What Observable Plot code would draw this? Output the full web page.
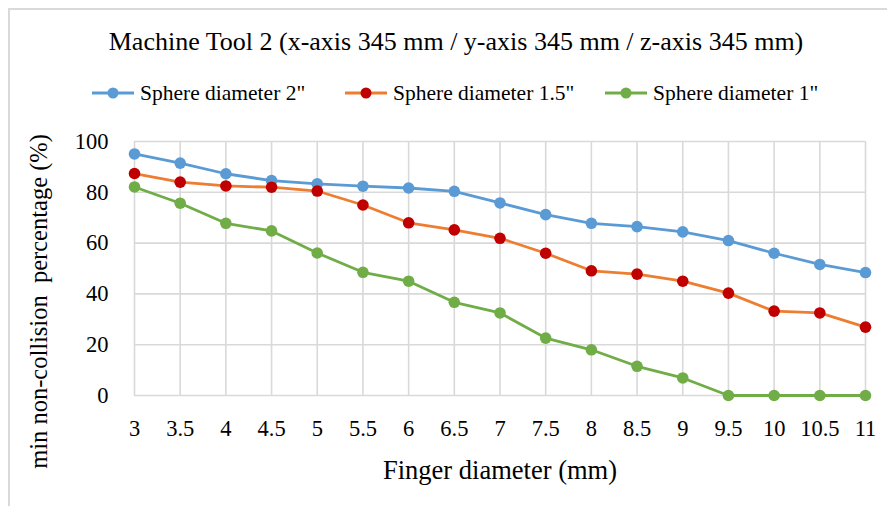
<!DOCTYPE html>
<html>
<head>
<meta charset="utf-8">
<script src="https://cdn.jsdelivr.net/npm/d3@7"></script>
<script src="https://cdn.jsdelivr.net/npm/@observablehq/plot@0.6"></script>
<style>
  html, body { margin: 0; padding: 0; background: #fff; }
  #wrap { position: relative; width: 887px; height: 506px; overflow: hidden; background: #fff;
          font-family: "Liberation Serif", "DejaVu Serif", serif; color: #000; }
  #frame { position: absolute; left: 8px; top: 8px; width: 900px; height: 520px;
           border-left: 2px solid #d9d9d9; border-top: 2px solid #d9d9d9; }
  #title { position: absolute; left: 25px; width: 862px; top: 28px; text-align: center;
           font-size: 26px; line-height: 28px; white-space: nowrap; }
  #legend { position: absolute; left: 0; top: 81px; width: 887px; height: 24px; }
  .item { position: absolute; top: 0; height: 24px; display: flex; align-items: center;
          font-size: 21.5px; white-space: nowrap; }
  .item svg { margin-right: 5px; }
  #chart { position: absolute; left: 0; top: 115px; }
</style>
</head>
<body>
<div id="wrap">
  <div id="frame"></div>
  <div id="title">Machine Tool 2 (x-axis 345 mm / y-axis 345 mm / z-axis 345 mm)</div>
  <div id="legend"></div>
  <div id="chart"></div>
</div>
<script>
// Finger diameter (mm) categories
const fingerDiameter = [3, 3.5, 4, 4.5, 5, 5.5, 6, 6.5, 7, 7.5, 8, 8.5, 9, 9.5, 10, 10.5, 11];
// min non-collision percentage (%) per sphere diameter
const sphere2in   = [95.1, 91.5, 87.3, 84.6, 83.3, 82.4, 81.7, 80.4, 75.8, 71.2, 67.8, 66.5, 64.4, 61.0, 56.0, 51.6, 48.4];
const sphere15in  = [87.4, 84.0, 82.5, 82.0, 80.5, 75.0, 68.0, 65.2, 61.9, 56.0, 49.1, 47.8, 45.0, 40.3, 33.2, 32.5, 26.9];
const sphere1in   = [82.1, 75.7, 67.8, 64.8, 56.1, 48.5, 45.0, 36.7, 32.5, 22.6, 18.0, 11.5, 6.9, 0, 0, 0, 0];
const seriesNames = ['Sphere diameter 2"', 'Sphere diameter 1.5"', 'Sphere diameter 1"'];
const yTicks = [0, 20, 40, 60, 80, 100];
const xLabel = "Finger diameter (mm)";
const yLabel = "min non-collision  percentage (%)";

// styles
const lineColors = ["#5B9BD5", "#ED7D31", "#70AD47"];
const dotColors  = ["#5B9BD5", "#C00000", "#70AD47"];
const seriesValues = [sphere2in, sphere15in, sphere1in];

const rows = [];
seriesNames.forEach((name, i) => {
  fingerDiameter.forEach((x, j) => rows.push({series: name, idx: i, x, y: seriesValues[i][j]}));
});

const marks = [
  Plot.gridX(fingerDiameter, {stroke: "#d9d9d9", strokeOpacity: 1, strokeWidth: 1.6}),
  Plot.gridY(yTicks, {stroke: "#d9d9d9", strokeOpacity: 1, strokeWidth: 1.6}),
  Plot.axisX(fingerDiameter, {tickSize: 0, tickPadding: 25, fontSize: 22.5, tickFormat: d => String(d), label: null}),
  Plot.axisY(yTicks, {tickSize: 0, tickPadding: 26, fontSize: 22.5, label: null}),
  Plot.text([xLabel], {text: d => d, frameAnchor: "bottom", textAnchor: "middle", lineAnchor: "middle", dy: 75, fontSize: 26.5}),
  Plot.text([yLabel], {text: d => d, frameAnchor: "left", textAnchor: "middle", lineAnchor: "middle", rotate: -90, dx: -95, dy: 33, fontSize: 24.5})
];
seriesNames.forEach((name, i) => {
  const d = rows.filter(r => r.idx === i);
  marks.push(Plot.line(d, {x: "x", y: "y", stroke: lineColors[i], strokeWidth: 2.8}));
});
seriesNames.forEach((name, i) => {
  const d = rows.filter(r => r.idx === i);
  marks.push(Plot.dot(d, {x: "x", y: "y", r: 5.8, fill: dotColors[i], stroke: "none"}));
});

const chart = Plot.plot({
  width: 887,
  height: 391,
  marginLeft: 134,
  marginRight: 22,
  marginTop: 26,
  marginBottom: 111,
  x: {type: "linear", domain: [3, 11]},
  y: {domain: [0, 100]},
  style: {fontFamily: "'Liberation Serif', 'DejaVu Serif', serif", fontSize: "22px", color: "#000", background: "transparent", overflow: "visible"},
  marks
});
document.getElementById("chart").appendChild(chart);

// legend
const legendX = [92, 345, 605];
const legend = document.getElementById("legend");
seriesNames.forEach((name, i) => {
  const item = document.createElement("div");
  item.className = "item";
  item.style.left = legendX[i] + "px";
  item.innerHTML = `<svg width="43" height="24"><line x1="0" x2="42" y1="12" y2="12" stroke="${lineColors[i]}" stroke-width="2.8"/><circle cx="21" cy="12" r="5.5" fill="${dotColors[i]}"/></svg>`;
  const span = document.createElement("span");
  span.textContent = name;
  item.appendChild(span);
  legend.appendChild(item);
});
</script>
</body>
</html>
